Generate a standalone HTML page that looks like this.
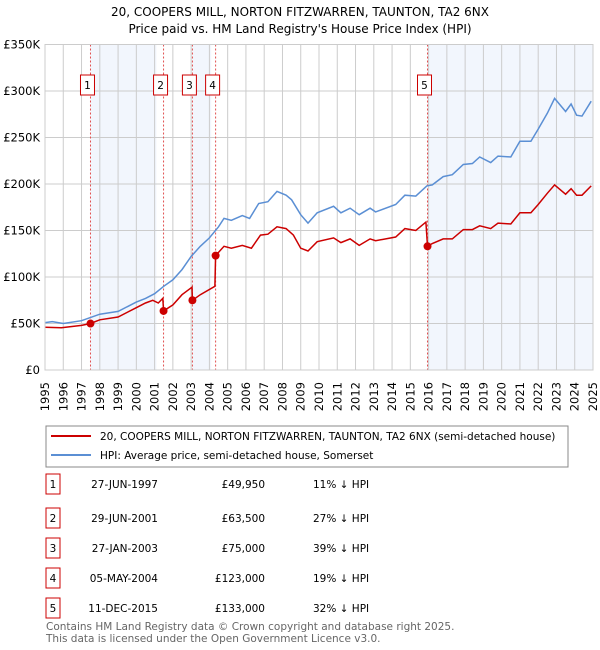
<!DOCTYPE html>
<html><head><meta charset="utf-8"><style>
body{margin:0;background:#fff;font-family:"Liberation Sans","DejaVu Sans",sans-serif;}
svg{display:block}
</style></head><body>
<svg id="c" width="600" height="650" viewBox="0 0 600 650" xmlns="http://www.w3.org/2000/svg" font-family="DejaVu Sans, Liberation Sans, sans-serif">
<text x="300" y="16" text-anchor="middle" font-size="12">20, COOPERS MILL, NORTON FITZWARREN, TAUNTON, TA2 6NX</text>
<text x="300" y="33" text-anchor="middle" font-size="12">Price paid vs. HM Land Registry's House Price Index (HPI)</text>
<g id="plot"></g>
<g>
<rect x="46" y="426" width="522" height="41" fill="#fff" stroke="#888"/>
<line x1="51" y1="436" x2="91" y2="436" stroke="#cc0000" stroke-width="2"/>
<text x="100" y="440" font-size="10.5">20, COOPERS MILL, NORTON FITZWARREN, TAUNTON, TA2 6NX (semi-detached house)</text>
<line x1="51" y1="455" x2="91" y2="455" stroke="#5b8fd4" stroke-width="2"/>
<text x="100" y="459" font-size="10.5">HPI: Average price, semi-detached house, Somerset</text>
</g>
<g id="tbl" font-size="10.5"></g>
<text x="46" y="630" font-size="10.5" fill="#666">Contains HM Land Registry data © Crown copyright and database right 2025.</text>
<text x="46" y="642" font-size="10.5" fill="#666">This data is licensed under the Open Government Licence v3.0.</text>
</svg>
<script>
const yTicks=[0,50000,100000,150000,200000,250000,300000,350000];
const yLabels=["£0","£50K","£100K","£150K","£200K","£250K","£300K","£350K"];
const years=[1995,1996,1997,1998,1999,2000,2001,2002,2003,2004,2005,2006,2007,2008,2009,2010,2011,2012,2013,2014,2015,2016,2017,2018,2019,2020,2021,2022,2023,2024,2025];
const saleDates=[1997.49,2001.49,2003.07,2004.34,2015.94];
const salePrices=[49950,63500,75000,123000,133000];
const saleLabels=["1","2","3","4","5"];
const saleDateText=["27-JUN-1997","29-JUN-2001","27-JAN-2003","05-MAY-2004","11-DEC-2015"];
const salePriceText=["£49,950","£63,500","£75,000","£123,000","£133,000"];
const saleHpiText=["11% ↓ HPI","27% ↓ HPI","39% ↓ HPI","19% ↓ HPI","32% ↓ HPI"];
const bands=[[1997.49,2001.1],[2003.07,2004.1],[2015.94,2025]];
const hpiT=[1995,1995.4,1996,1997,1998,1999,2000,2000.5,2001,2001.5,2002,2002.5,2003,2003.5,2004,2004.5,2004.8,2005.2,2005.8,2006.2,2006.7,2007.2,2007.7,2008.2,2008.5,2009,2009.4,2009.9,2010.8,2011.2,2011.7,2012.2,2012.8,2013.1,2014.2,2014.7,2015.3,2015.9,2016.2,2016.8,2017.3,2017.9,2018.4,2018.8,2019.4,2019.8,2020.5,2021,2021.6,2022,2022.5,2022.9,2023.5,2023.8,2024.1,2024.4,2024.9];
const hpiV=[51,52,50,53,60,63,73,77,82,90,97,108,122,133,142,154,163,161,166,163,179,181,192,188,183,167,158,169,176,169,174,167,174,170,178,188,187,198,199,208,210,221,222,229,223,230,229,246,246,259,276,292,278,286,274,273,289];
const redT=[1995,1995.9,1997,1997.49,1998,1999,2000,2000.5,2000.9,2001.2,2001.45,2001.49,2002,2002.5,2003.05,2003.07,2003.5,2004.3,2004.34,2004.8,2005.2,2005.8,2006.3,2006.8,2007.2,2007.7,2008.2,2008.6,2009,2009.4,2009.9,2010.8,2011.2,2011.7,2012.2,2012.8,2013.1,2014.2,2014.7,2015.3,2015.85,2015.94,2016.2,2016.8,2017.3,2017.9,2018.4,2018.8,2019.4,2019.8,2020.5,2021,2021.6,2022,2022.5,2022.9,2023.5,2023.8,2024.1,2024.4,2024.9];
const redV=[46,45.5,48,49.95,54,57,67,72,75,72,77,63.5,70,81,89,75,81,90,123,133,131,134,131,145,146,154,152,145,131,128,138,142,137,141,134,141,139,143,152,150,159,133,136,141,141,151,151,155,152,158,157,169,169,178,190,199,189,195,188,188,198];
const X0=45,X1=593,Y0=370,Y1=44.5;
const xs=t=>X0+(t-1995)/30*(X1-X0);
const ys=v=>Y0-v/350000*(Y0-Y1);
const NS="http://www.w3.org/2000/svg";
const plot=document.getElementById('plot');
function mk(tag,attrs,parent){const e=document.createElementNS(NS,tag);for(const k in attrs)e.setAttribute(k,attrs[k]);(parent||plot).appendChild(e);return e;}
bands.forEach(b=>{const r=mk('rect',{x:xs(b[0]),y:Y1,width:xs(b[1])-xs(b[0]),height:Y0-Y1,fill:'#eef3fc',opacity:0.75});

});
years.forEach(y=>{const l=mk('line',{x1:xs(y),x2:xs(y),y1:Y1,y2:Y0,stroke:'#ccc','stroke-width':1});


const t=mk('text',{x:0,y:0,'font-size':11.5,'text-anchor':'end',transform:`translate(${xs(y)+4},382) rotate(-90)`});
t.textContent=y;

});
yTicks.forEach((v,i)=>{const l=mk('line',{x1:X0,x2:X1,y1:ys(v),y2:ys(v),stroke:'#ccc','stroke-width':1});


const t=mk('text',{x:40,y:ys(v)+4,'font-size':11.5,'text-anchor':'end'});
t.textContent=yLabels[i];

});
saleDates.forEach((d,i)=>{const l=mk('line',{x1:xs(d),x2:xs(d),y1:Y1,y2:Y0,stroke:'#e05050','stroke-width':1,'stroke-dasharray':'2,2'});


const r=mk('rect',{x:xs(d)-10,y:75,width:14,height:20,fill:'#fff',stroke:'#cc0000'});


const t=mk('text',{x:xs(d)-3,y:89,'font-size':10.5,'text-anchor':'middle'});
t.textContent=saleLabels[i];

});
const path=(T,V)=>T.map((t,i)=>(i?'L':'M')+xs(t).toFixed(1)+','+ys(V[i]*1000).toFixed(1)).join('');
const hp=mk('path',{d:path(hpiT,hpiV),fill:'none',stroke:'#5b8fd4','stroke-width':1.5});


const rp=mk('path',{d:path(redT,redV),fill:'none',stroke:'#cc0000','stroke-width':1.5});


saleDates.forEach((d,i)=>{const c=mk('circle',{cx:xs(d),cy:ys(salePrices[i]),r:4,fill:'#cc0000'});

});
const ax=mk('rect',{x:X0,y:Y1,width:X1-X0,height:Y0-Y1,fill:'none',stroke:'#ccc'});


const tbl=document.getElementById('tbl');
const rowY=[484,518,548,578,608];
rowY.forEach((y,i)=>{const r=mk('rect',{x:46,y:y-10,width:14,height:20,fill:'#fff',stroke:'#cc0000'},tbl);


const cells=[[53,saleLabels[i],'middle'],[158,saleDateText[i],'end'],[265,salePriceText[i],'end'],[313,saleHpiText[i],'start']];
cells.forEach(c=>{const t=mk('text',{x:c[0],y:y+4,'text-anchor':c[2]},tbl);t.textContent=c[1];

});});
</script>
</body></html>
